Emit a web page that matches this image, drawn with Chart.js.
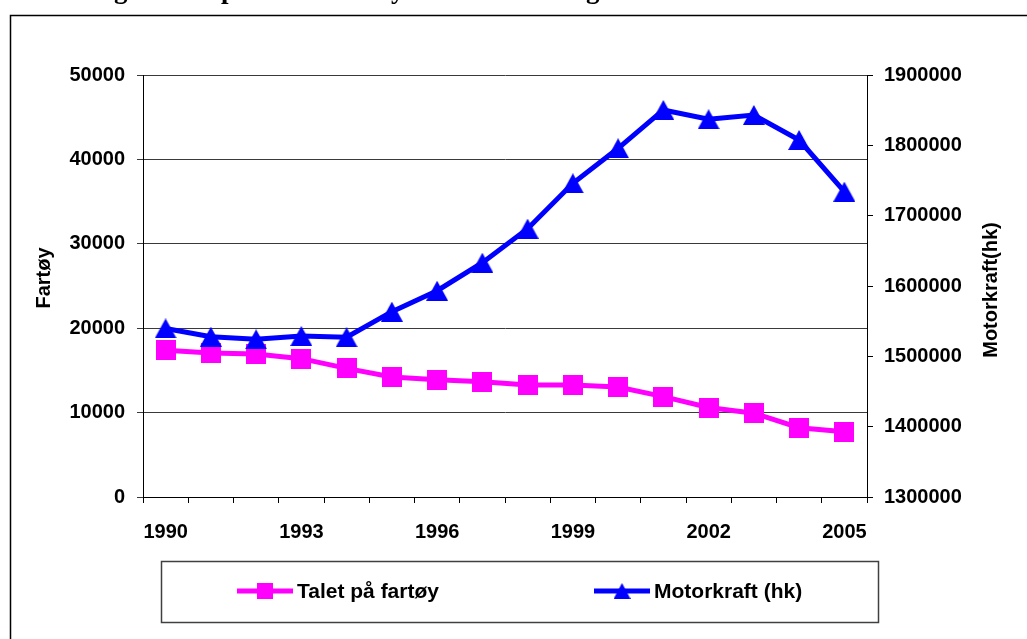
<!DOCTYPE html>
<html>
<head>
<meta charset="utf-8">
<script src="https://cdn.jsdelivr.net/npm/chart.js@4.4.1/dist/chart.umd.min.js"></script>
<style>
  html, body { margin: 0; padding: 0; background: #ffffff; }
  #wrap { width: 1027px; height: 639px; position: relative; overflow: hidden; }
</style>
</head>
<body>
<div id="wrap"><canvas id="c" width="1027" height="639"></canvas></div>
<script>
// ---- data ----
const years = ['1990','1991','1992','1993','1994','1995','1996','1997','1998','1999','2000','2001','2002','2003','2004','2005'];
const vesselCount = [17380, 17070, 16950, 16390, 15240, 14210, 13890, 13650, 13260, 13260, 13020, 11900, 10600, 9930, 8210, 7740];
const enginePower = [1539600, 1527900, 1524200, 1528900, 1527100, 1563500, 1593300, 1633100, 1681500, 1746000, 1795800, 1850300, 1837000, 1843200, 1807600, 1734100];
const leftTicks = [0, 10000, 20000, 30000, 40000, 50000];
const rightTicks = [1300000, 1400000, 1500000, 1600000, 1700000, 1800000, 1900000];
const seriesNames = ['Talet på fartøy', 'Motorkraft (hk)'];
const leftAxisTitle = 'Fartøy';
const rightAxisTitle = 'Motorkraft(hk)';
const titleFragments = [['g', 114], ['p', 221], ['y', 391], ['g', 586]];

const PINK = '#FF00FF';
const BLUE = '#0000FF';
const FONT = 'bold 20px "Liberation Sans", Arial, sans-serif';

function squareMarker(size, color) {
  const c = document.createElement('canvas');
  c.width = size; c.height = size;
  const g = c.getContext('2d');
  g.fillStyle = color;
  g.fillRect(0, 0, size, size);
  return c;
}
function triangleMarker(w, h, color) {
  const c = document.createElement('canvas');
  c.width = w; c.height = h;
  const g = c.getContext('2d');
  g.fillStyle = color;
  g.beginPath();
  g.moveTo(w / 2, 0);
  g.lineTo(w, h);
  g.lineTo(0, h);
  g.closePath();
  g.fill();
  return c;
}
const sq = squareMarker(20, PINK);
const tri = triangleMarker(22, 20, BLUE);

const decorPlugin = {
  id: 'decor',
  beforeDraw(chart) {
    const ctx = chart.ctx;
    ctx.save();
    ctx.fillStyle = '#ffffff';
    ctx.fillRect(0, 0, chart.width, chart.height);
    ctx.restore();
  },
  afterDraw(chart) {
    const ctx = chart.ctx;
    ctx.save();
    // outer frame
    ctx.strokeStyle = '#000000';
    ctx.lineWidth = 1.5;
    ctx.strokeRect(10.5, 15.5, 1040, 660);
    // cut-off title fragments (only descenders visible)
    ctx.fillStyle = '#000000';
    ctx.font = 'bold 27px "Liberation Serif", "Times New Roman", serif';
    ctx.textBaseline = 'alphabetic';
    ctx.textAlign = 'left';
    titleFragments.forEach(([ch, x]) => ctx.fillText(ch, x, -2));
    // axis titles
    ctx.font = FONT;
    ctx.textAlign = 'center';
    ctx.textBaseline = 'middle';
    const a = chart.chartArea;
    const midY = (a.top + a.bottom) / 2;
    ctx.save();
    ctx.translate(44, midY - 8);
    ctx.rotate(-Math.PI / 2);
    ctx.fillText(leftAxisTitle, 0, 0);
    ctx.restore();
    ctx.save();
    ctx.translate(991, midY + 4);
    ctx.rotate(-Math.PI / 2);
    ctx.fillText(rightAxisTitle, 0, 0);
    ctx.restore();
    // legend
    ctx.strokeStyle = '#404040';
    ctx.lineWidth = 1.5;
    ctx.strokeRect(161.5, 561.5, 717, 61);
    const ly = 591;
    const items = [
      { x: 237, color: chart.data.datasets[0].borderColor, marker: squareMarker(16, PINK), text: chart.data.datasets[0].label },
      { x: 594, color: chart.data.datasets[1].borderColor, marker: triangleMarker(17, 16, BLUE), text: chart.data.datasets[1].label }
    ];
    ctx.font = 'bold 21px "Liberation Sans", Arial, sans-serif';
    items.forEach(it => {
      ctx.strokeStyle = it.color;
      ctx.lineWidth = 5;
      ctx.beginPath();
      ctx.moveTo(it.x, ly);
      ctx.lineTo(it.x + 56, ly);
      ctx.stroke();
      ctx.drawImage(it.marker, it.x + 28 - it.marker.width / 2, ly - it.marker.height / 2);
      ctx.fillStyle = '#000000';
      ctx.textAlign = 'left';
      ctx.textBaseline = 'middle';
      ctx.fillText(it.text, it.x + 60, ly + 1);
    });
    ctx.restore();
  }
};

new Chart(document.getElementById('c'), {
  type: 'line',
  data: {
    labels: years,
    datasets: [
      {
        label: seriesNames[0],
        data: vesselCount,
        yAxisID: 'y',
        borderColor: PINK,
        backgroundColor: PINK,
        borderWidth: 5,
        pointStyle: sq,
        pointRadius: 10,
        tension: 0,
        order: 1
      },
      {
        label: seriesNames[1],
        data: enginePower,
        yAxisID: 'y2',
        borderColor: BLUE,
        backgroundColor: BLUE,
        borderWidth: 5,
        pointStyle: tri,
        pointRadius: 10,
        tension: 0,
        order: 0
      }
    ]
  },
  options: {
    responsive: false,
    animation: false,
    events: [],
    layout: { padding: { left: 0, right: 0, top: 75, bottom: 92 } },
    plugins: {
      legend: { display: false },
      tooltip: { enabled: false },
      title: { display: false }
    },
    font: { family: '"Liberation Sans", Arial, sans-serif' },
    scales: {
      x: {
        type: 'category',
        offset: true,
        grid: {
          offset: true,
          drawOnChartArea: false,
          drawTicks: true,
          tickLength: 6,
          color: '#000000',
          lineWidth: 1
        },
        border: { display: true, color: '#000000', width: 1 },
        ticks: {
          autoSkip: false,
          maxRotation: 0,
          minRotation: 0,
          padding: 17,
          color: '#000000',
          font: { family: '"Liberation Sans", Arial, sans-serif', size: 20, weight: 'bold' },
          callback: function (v, i) { return i % 3 === 0 ? this.getLabelForValue(v) : ''; }
        },
        afterFit: s => { s.height = 50; }
      },
      y: {
        position: 'left',
        min: leftTicks[0],
        max: leftTicks[leftTicks.length - 1],
        afterBuildTicks: s => { s.ticks = leftTicks.map(v => ({ value: v })); },
        grid: {
          drawOnChartArea: true,
          tickLength: 6,
          color: '#3a3a3a',
          lineWidth: 1
        },
        border: { display: true, color: '#000000', width: 1 },
        ticks: {
          padding: 12,
          color: '#000000',
          font: { family: '"Liberation Sans", Arial, sans-serif', size: 20, weight: 'bold' },
          callback: v => String(v)
        },
        afterFit: s => { s.width = 143; }
      },
      y2: {
        position: 'right',
        min: rightTicks[0],
        max: rightTicks[rightTicks.length - 1],
        afterBuildTicks: s => { s.ticks = rightTicks.map(v => ({ value: v })); },
        grid: {
          drawOnChartArea: false,
          tickLength: 6,
          color: '#000000',
          lineWidth: 1
        },
        border: { display: true, color: '#000000', width: 1 },
        ticks: {
          padding: 11,
          color: '#000000',
          font: { family: '"Liberation Sans", Arial, sans-serif', size: 20, weight: 'bold' },
          callback: v => String(v)
        },
        afterFit: s => { s.width = 160; }
      }
    }
  },
  plugins: [decorPlugin]
});
</script>
</body>
</html>
